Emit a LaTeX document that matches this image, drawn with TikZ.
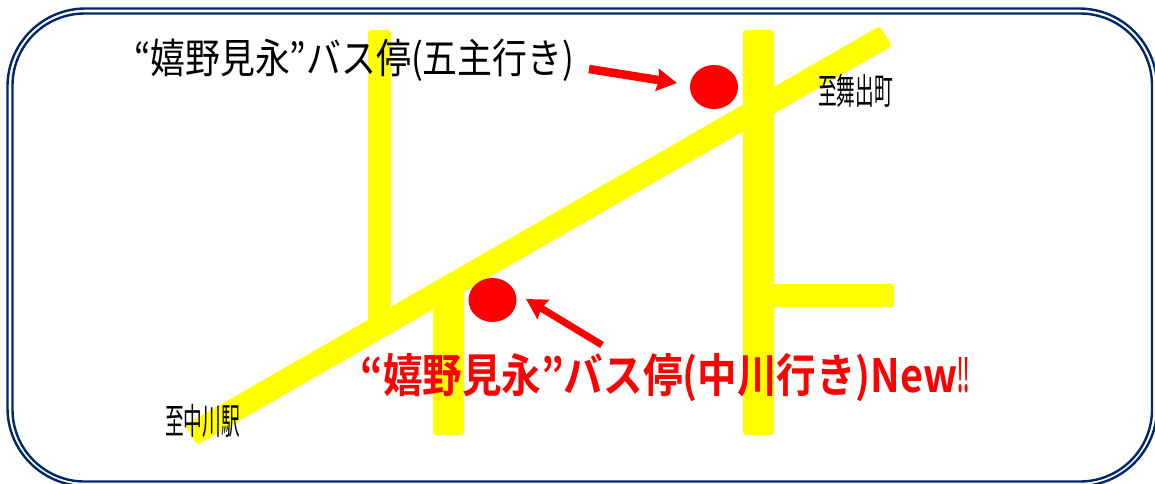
\documentclass[tikz,border=0pt]{standalone}
\usepackage{fontspec}
\newfontfamily\cjk{Noto Sans CJK JP}
\newfontfamily\cjkb{Noto Sans CJK JP Bold}
\usetikzlibrary{arrows.meta,shapes.geometric}
\definecolor{navy}{RGB}{0,40,104}
\definecolor{roadyellow}{RGB}{255,255,0}
\definecolor{stopred}{RGB}{255,0,0}
\tikzset{
 frameline/.style={draw=navy,line width=2.4pt,rounded corners=#1},
 road/.style={fill=roadyellow,draw=none,rounded corners=3pt},
 stop/.style={ellipse,fill=stopred,draw=none,minimum width=48pt,minimum height=44pt,inner sep=0pt},
 pointer/.style={draw=stopred,line width=#1,-{Triangle[length=20pt,width=22pt,inset=2pt]}},
 label/.style={inner sep=0pt,anchor=center,text=black},
}
\begin{document}
\begin{tikzpicture}[x=1pt,y=-1pt]
\useasboundingbox (0,0) rectangle (1155,483);
\fill[white] (0,0) rectangle (1155,483);
\begin{scope}
\clip (0,0) rectangle (1155,483);
\draw[frameline=78pt] (7.5,8.5) rectangle (1157,486);
\draw[frameline=72pt] (12.5,13.5) rectangle (1152,481.5);
\end{scope}
\fill[road] (368,30) rectangle (391,322);
\fill[road] (743,30) rectangle (774,435);
\fill[road] (433,285) rectangle (464,435);
\fill[road] (770,284) rectangle (894,307);
\fill[road] (880,26) -- (892,46) -- (197,445) -- (185,425) -- cycle;
\node[stop] (stopA) at (714,87) {};
\node[stop] (stopB) at (492.5,300) {};
\coordinate (fromA) at (589,69);
\coordinate (toA) at (677,83);
\coordinate (fromB) at (602,345);
\coordinate (toB) at (526,299);
\draw[pointer=8.5pt] (fromA) -- (toA);
\draw[pointer=7pt] (fromB) -- (toB);
\node[label,font=\cjk] (lblA) at (354,60) {\scalebox{0.85}[1]{\fontsize{41}{41}\selectfont “嬉野見永”バス停(五主行き)}};
\node[label,font=\cjkb,text=stopred] (lblB) at (665,378) {\scalebox{0.86}[1]{\fontsize{46}{46}\selectfont “嬉野見永”バス停(中川行き)New\scalebox{0.42}[1]{!!}}};
\node[label,font=\cjk] (lblC) at (855.5,91) {\scalebox{0.52}[1]{\fontsize{36}{36}\selectfont 至舞出町}};
\node[label,font=\cjk] (lblD) at (202.5,421) {\scalebox{0.52}[1]{\fontsize{36}{36}\selectfont 至中川駅}};
\end{tikzpicture}
\end{document}
